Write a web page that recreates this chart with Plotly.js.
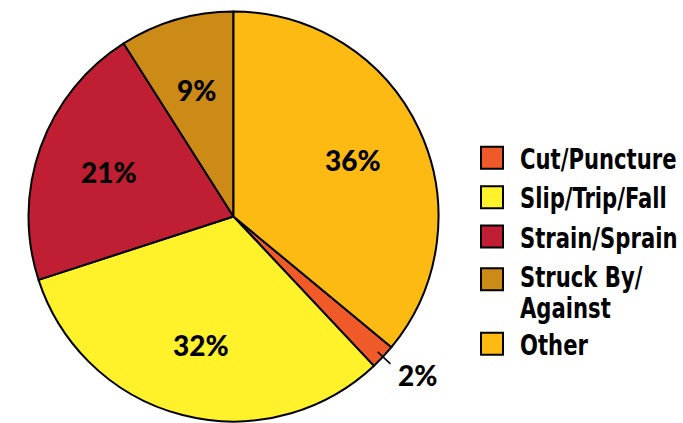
<!DOCTYPE html>
<html>
<head>
<meta charset="utf-8">
<script src="https://cdn.plot.ly/plotly-3.0.1.min.js"></script>
<style>
html,body{margin:0;padding:0;background:#fff;}
#chart{width:683px;height:423px;}
</style>
</head>
<body>
<div id="chart"></div>
<script>
const categories = ["Cut/Puncture", "Slip/Trip/Fall", "Strain/Sprain", "Struck By/<br>Against", "Other"];
const values = [2, 32, 21, 9, 36];
const colors = ["#F05A28", "#FFF12A", "#C01E32", "#CC8A16", "#FDBA12"];
const labelOutside = [true, false, false, false, false];
const startRotation = 129.6; // first slice (Cut/Puncture) starts where "Other" ends

const W = 683, H = 423;
const cx = 233.5, cy = 216.5, R = 205;
const dom = {x: [(cx - R) / W, (cx + R) / W], y: [1 - (cy + R) / H, 1 - (cy - R) / H]};

const trace = {
  type: "pie",
  labels: categories,
  values: values,
  sort: false,
  direction: "clockwise",
  rotation: startRotation,
  marker: {colors: colors, line: {color: "#000", width: 2}},
  textinfo: "none",
  domain: dom,
  hoverinfo: "label+percent"
};

// percentage labels + leader line, positioned from the slice values
const total = values.reduce((a, b) => a + b, 0);
function pt(deg, r) {
  const a = deg * Math.PI / 180;
  return [(cx + r * Math.sin(a)) / W, 1 - (cy - r * Math.cos(a)) / H];
}
const annotations = [], shapes = [];
let cum = startRotation;
values.forEach((v, i) => {
  const span = v / total * 360;
  const mid = cum + span / 2;
  cum += span;
  const txt = Math.round(v / total * 100) + "%";
  const font = {family: "Lato, sans-serif", size: 28, color: "#000", weight: 900};
  if (labelOutside[i]) {
    const a = pt(mid, R * 0.965), b = pt(mid, R * 1.05), t = pt(mid - 2.5, R * 1.185);
    shapes.push({type: "line", xref: "paper", yref: "paper", x0: a[0], y0: a[1], x1: b[0], y1: b[1], line: {color: "#000", width: 1.5}});
    annotations.push({xref: "paper", yref: "paper", x: t[0], y: t[1], text: txt, showarrow: false, font: font, xanchor: "center", yanchor: "middle"});
  } else {
    const p = pt(mid, R * 0.645);
    annotations.push({xref: "paper", yref: "paper", x: p[0], y: p[1], text: txt, showarrow: false, font: font, xanchor: "center", yanchor: "middle"});
  }
});

const layout = {
  width: W, height: H,
  margin: {l: 0, r: 0, t: 0, b: 0, autoexpand: false},
  paper_bgcolor: "#fff",
  showlegend: true,
  legend: {
    x: 0.69, y: 0.404, xanchor: "left", yanchor: "middle",
    font: {family: "'DejaVu Sans Condensed', 'DejaVu Sans', sans-serif", size: 28, color: "#000", weight: 700},
    traceorder: "normal"
  },
  annotations: annotations,
  shapes: shapes
};

Plotly.newPlot("chart", [trace], layout, {displayModeBar: false, staticPlot: true}).then(gd => {
  const legend = gd.querySelector("g.legend");
  gd.querySelectorAll(".legend .legendpoints path").forEach(p => p.setAttribute("d", "M11,11H-11V-11H11Z"));
  // move legend so swatches are centred at x = 492
  const sw = gd.querySelector(".legend .legendpoints path").getBoundingClientRect();
  const m = /translate\(([-\d.]+)[ ,]+([-\d.]+)\)/.exec(legend.getAttribute("transform"));
  const lx = parseFloat(m[1]) + (492 - (sw.left + sw.width / 2));
  legend.setAttribute("transform", `translate(${lx},${m[2]})`);
  let offset = 3;
  gd.querySelectorAll(".legend g.traces").forEach(tr => {
    const t = tr.querySelector("text.legendtext");
    const pts = tr.querySelector(".legendpoints path");
    const x0 = parseFloat(t.getAttribute("x")) || 40;
    t.setAttribute("transform", `translate(${x0},0) scale(0.84,1) translate(${-x0},0)`);
    const sr = pts.getBoundingClientRect();
    const tl = t.getBoundingClientRect().left;
    const d = (sr.left + sr.width / 2 + 28) - tl;
    t.setAttribute("transform", `translate(${x0 + d},0) scale(0.84,1) translate(${-x0},0)`);
    const tm = /translate\(([-\d.]+)[ ,]+([-\d.]+)\)/.exec(tr.getAttribute("transform") || "translate(0,0)");
    tr.setAttribute("transform", `translate(${tm[1]},${parseFloat(tm[2]) + offset})`);
    const lines = t.querySelectorAll("tspan.line");
    if (lines.length > 1) {
      pts.parentNode.setAttribute("transform", `translate(0,${-(lines.length - 1) * 15})`);
      lines.forEach((ln, k) => { if (k > 0 && ln.getAttribute("dy")) ln.setAttribute("dy", "1.1em"); });
      offset -= 8;
    }
  });
});
</script>
</body>
</html>
